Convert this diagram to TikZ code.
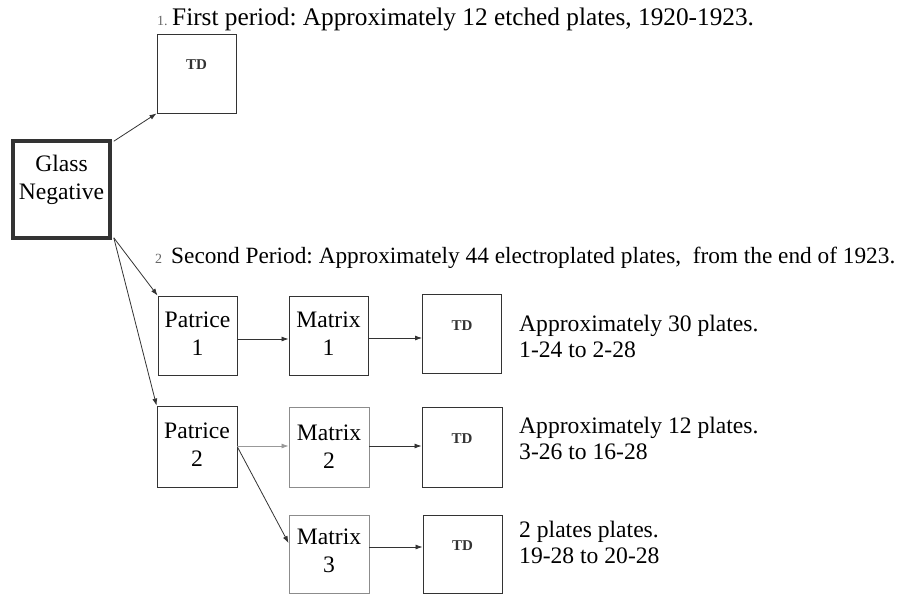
\documentclass[tikz,border=0pt]{standalone}
\usepackage{fontspec}
\setmainfont{Liberation Serif}
\usetikzlibrary{arrows.meta}
\frenchspacing
\begin{document}
\begin{tikzpicture}[x=1pt,y=-1pt,
  every node/.style={font=\fontsize{23.6}{28}\selectfont},
  box/.style={draw=black!80,line width=0.9pt,minimum width=79pt,minimum height=79pt,inner sep=0pt},
  lightbox/.style={box,draw=black!45},
  tdlab/.style={font=\fontsize{15}{17}\selectfont\bfseries,text=black!80},
  boxtext/.style={align=center,inner sep=0pt},
  conn/.style={draw=black!80,line width=0.8pt,-{Latex[length=7pt,width=5pt]}},
  lightconn/.style={conn,draw=black!40},
  txt/.style={anchor=base west,inner sep=0pt},
  num/.style={anchor=base west,inner sep=0pt,font=\fontsize{14}{16}\selectfont,text=black!60}]
\useasboundingbox (0,0) rectangle (916,594);
% boxes
\node[box,line width=3.6pt,minimum width=97pt,minimum height=97pt] (gn) at (61.5,189.5) {};
\node[boxtext] (gnt) at (61.5,179.5) {Glass\\Negative};
\node[box] (td0) at (196.5,73.5) {};
\node[tdlab] (td0t) at (196.5,65) {TD};
\node[box] (p1) at (197.5,335.5) {};
\node[boxtext] (p1t) at (197.5,334) {Patrice\\1};
\node[box] (m1) at (328.5,335.5) {};
\node[boxtext] (m1t) at (328.5,334) {Matrix\\1};
\node[box] (t1) at (462,334) {};
\node[tdlab] (t1t) at (462,325.5) {TD};
\node[box,minimum width=80pt,minimum height=81pt] (p2) at (197,446.5) {};
\node[boxtext] (p2t) at (197,445) {Patrice\\2};
\node[lightbox,minimum width=80pt,minimum height=80pt] (m2) at (329,447) {};
\node[boxtext] (m2t) at (329,446.5) {Matrix\\2};
\node[box,minimum width=80pt,minimum height=80pt] (t2) at (462,447) {};
\node[tdlab] (t2t) at (462,439) {TD};
\node[lightbox,minimum width=80pt,minimum height=78pt] (m3) at (329,554) {};
\node[boxtext] (m3t) at (329,550.5) {Matrix\\3};
\node[box,minimum width=79pt,minimum height=78pt] (t3) at (462.5,554) {};
\node[tdlab] (t3t) at (462.5,546) {TD};
% texts
\node[num] (n1) at (157,26) {1.};
\node[txt,font=\fontsize{25.3}{28}\selectfont] (h1) at (172,26) {First period: Approximately 12 etched plates, 1920-1923.};
\node[num] (n2) at (155,263) {2};
\node[txt,font=\fontsize{23.3}{28}\selectfont] (h2) at (171,263) {Second Period: Approximately 44 electroplated plates,\ \ from the end of 1923.};
\node[txt] (a1) at (519,331) {Approximately 30 plates.};
\node[txt] (a2) at (519,357) {1-24 to 2-28};
\node[txt] (b1) at (519,433) {Approximately 12 plates.};
\node[txt] (b2) at (519,459) {3-26 to 16-28};
\node[txt] (c1) at (519,537) {2 plates plates.};
\node[txt] (c2) at (519,563) {19-28 to 20-28};
% connectors
\draw[conn] ([xshift=2pt,yshift=-2pt]gn.north east) -- (td0.south west);
\draw[conn] ([xshift=2pt,yshift=2pt]gn.south east) -- (p1.north west);
\draw[conn] ([xshift=2pt,yshift=2pt]gn.south east) -- (p2.north west);
\draw[conn] (p1.east |- 0,339) -- (m1.west |- 0,339);
\draw[conn] (m1.east |- 0,338) -- (t1.west |- 0,338);
\draw[lightconn] (p2.east |- 0,446) -- (m2.west |- 0,446);
\draw[conn] (m2.east |- 0,446) -- (t2.west |- 0,446);
\draw[conn] (p2.east |- 0,447) -- (m3.west |- 0,543);
\draw[conn] (m3.east |- 0,547) -- (t3.west |- 0,547);
\end{tikzpicture}
\end{document}
